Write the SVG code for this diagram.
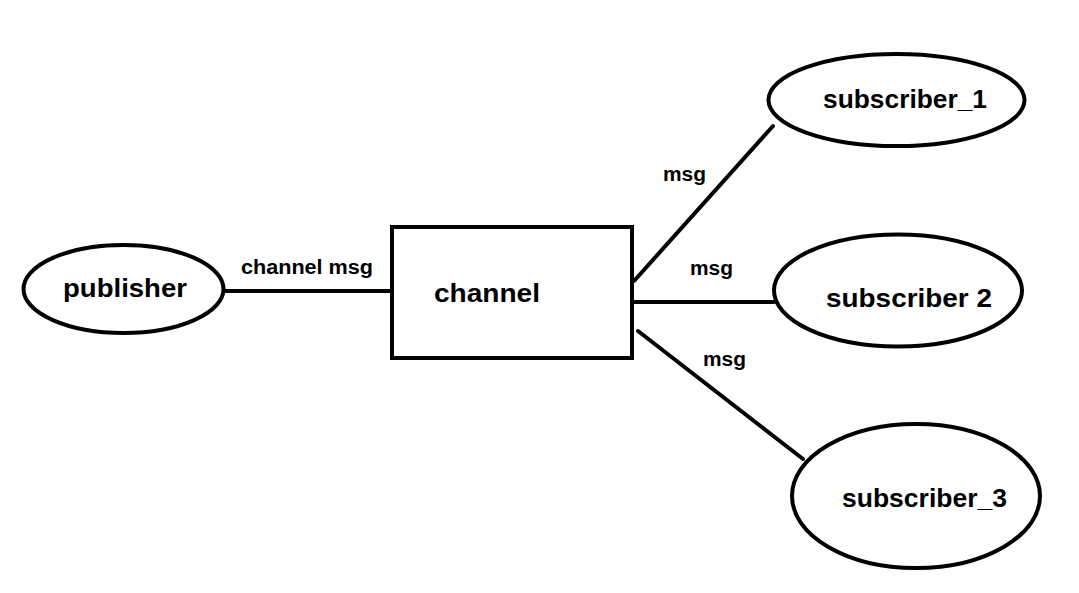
<svg xmlns="http://www.w3.org/2000/svg" width="1079" height="593" viewBox="0 0 1079 593">
<style>
.shape{fill:#fff;stroke:#000;stroke-width:4}
.conn line{stroke:#000;stroke-width:4;stroke-linecap:round}
.t{font-family:"Liberation Sans",Arial,sans-serif;font-weight:bold;font-size:26px;fill:#000}
.l{font-family:"Liberation Sans",Arial,sans-serif;font-weight:bold;font-size:20px;fill:#000}
</style>
<rect width="1079" height="593" fill="#fff"/>
<g id="connectors" class="conn">
<line x1="225" y1="291" x2="393" y2="291"/>
<line x1="634" y1="281" x2="773" y2="126"/>
<line x1="628" y1="302" x2="774" y2="302"/>
<line x1="638" y1="331" x2="803" y2="459"/>
</g>
<g id="labels">
<text class="l" x="241" y="274" textLength="132" lengthAdjust="spacingAndGlyphs">channel msg</text>
<text class="l" x="663" y="181" textLength="43" lengthAdjust="spacingAndGlyphs">msg</text>
<text class="l" x="690" y="275" textLength="43" lengthAdjust="spacingAndGlyphs">msg</text>
<text class="l" x="703" y="366" textLength="43" lengthAdjust="spacingAndGlyphs">msg</text>
</g>
<g id="publisher">
<ellipse class="shape" cx="123.5" cy="289" rx="100" ry="44"/>
<text class="t" x="63" y="297" textLength="124" lengthAdjust="spacingAndGlyphs">publisher</text>
</g>
<g id="channel">
<rect class="shape" x="392" y="227" width="240" height="131"/>
<text class="t" x="434" y="302" textLength="106" lengthAdjust="spacingAndGlyphs">channel</text>
</g>
<g id="subscriber_1">
<ellipse class="shape" cx="896.5" cy="100" rx="128" ry="46"/>
<text class="t" x="823" y="108" textLength="164" lengthAdjust="spacingAndGlyphs">subscriber_1</text>
</g>
<g id="subscriber_2">
<ellipse class="shape" cx="898" cy="290.5" rx="124" ry="56"/>
<text class="t" x="826" y="307" textLength="166" lengthAdjust="spacingAndGlyphs">subscriber 2</text>
</g>
<g id="subscriber_3">
<ellipse class="shape" cx="916" cy="496" rx="124" ry="72"/>
<text class="t" x="842" y="507" textLength="165" lengthAdjust="spacingAndGlyphs">subscriber_3</text>
</g>
</svg>
